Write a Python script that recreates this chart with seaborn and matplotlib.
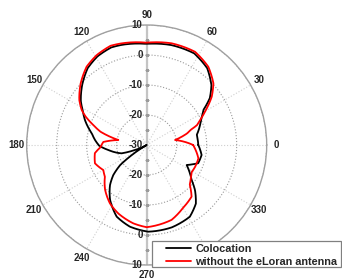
import numpy as np
import pandas as pd
import matplotlib
matplotlib.use("Agg")
import matplotlib.pyplot as plt
from matplotlib.patches import Rectangle
import seaborn as sns

# --- data (angle in degrees, gain in dB) ---
coloc_deg = [0, 11.3, 20.6, 27, 31.7, 36.6, 42.8, 51.8, 62.6, 76.2, 90, 104, 110, 119,
             127.5, 137, 146.3, 151.7, 158, 168, 174.5, 181, 187.4, 198.4, 203, 210,
             214, 217, 222, 227.5, 236.3, 247.3, 258.4, 271, 287, 301, 310, 317, 322,
             326.8, 333.4, 337, 340.5, 349.7, 360]
coloc_db = [-12.8, -13.0, -11.0, -9.4, -7.8, -3.8, -0.6, 2.6, 4.4, 4.3, 3.7, 4.4, 4.6, 3.8,
            2.3, -0.6, -3.6, -5.8, -7.8, -11.3, -12.7, -14.2, -17.1, -21.2, -25.8, -30,
            -24, -19, -15, -11.9, -8.0, -4.1, -2.2, -1.1, -1.3, -2.1, -4.5, -8.0, -11.0,
            -12.8, -15.1, -13.5, -11.8, -11.4, -12.8]

noel_deg = [0, 10, 16, 19, 21.5, 25, 30, 36.6, 42.8, 51.8, 62.6, 76.2, 90, 104, 110, 119,
            127.5, 137, 146.3, 151.7, 155, 159.5, 164, 170, 176, 183, 189, 199.5, 210,
            217.2, 227.2, 237.8, 247.4, 260.3, 270, 288.4, 300, 311, 317.4, 322, 329,
            335.8, 345.5, 356, 360]
noel_db = [-14.5, -20.4, -16.0, -14.5, -12.0, -10.4, -7.5, -3.0, 0.3, 3.2, 5.0, 4.9, 4.1, 4.9,
           5.2, 4.3, 2.9, 0.1, -3.0, -5.4, -7.5, -11.0, -14.0, -20.4, -15.5, -14.5, -12.5,
           -11.7, -13.3, -12.5, -9.6, -7.0, -5.3, -3.5, -2.6, -3.7, -5.8, -7.2, -10.5,
           -11.4, -12.5, -12.3, -12.2, -13.9, -14.5]

series_names = ["Colocation", "without the eLoran antenna"]
series_colors = ["black", "#ff0000"]

r_ticks = [-30, -20, -10, 0, 10]
theta_ticks = list(range(0, 360, 30))

sns.set_style("white")
plt.rcParams['font.family'] = ['Liberation Sans', 'DejaVu Sans']

fig = plt.figure(figsize=(3.42, 2.78), dpi=100)
ax = fig.add_axes([26.7 / 342, 13 / 278, 240 / 342, 240 / 278], projection='polar')

frames = []
for name, deg, db in [(series_names[0], coloc_deg, coloc_db),
                      (series_names[1], noel_deg, noel_db)]:
    frames.append(pd.DataFrame({'theta': np.deg2rad(deg), 'r': db, 'series': name}))
df = pd.concat(frames, ignore_index=True)

ax.set_ylim(-30, 10)

# axis line through the center (90 / 270)
ax.axvline(np.pi / 2, color='#c4c4c4', lw=1.6, zorder=1)
ax.axvline(3 * np.pi / 2, color='#c4c4c4', lw=1.6, zorder=1)

for name, col in zip(series_names, series_colors):
    sns.lineplot(data=df[df['series'] == name], x='theta', y='r', sort=False,
                 estimator=None, color=col, lw=1.3, label=name, ax=ax, zorder=3)
# draw segments as arcs in polar space
for line in ax.lines[-2:]:
    line.get_path()._interpolation_steps = 30

ax.set_xlabel('')
ax.set_ylabel('')

ax.set_thetagrids(theta_ticks, [''] * len(theta_ticks))
ax.set_rgrids(r_ticks, labels=[''] * len(r_ticks))
ax.xaxis.grid(True, color='#cfcfcf', linestyle=':', lw=0.8)
ax.yaxis.grid(True, color='#9a9a9a', linestyle=':', lw=0.8)
ax.spines['polar'].set_color('#a0a0a0')
ax.spines['polar'].set_linewidth(1.0)

# angle labels at a fixed distance from the center
for t in theta_ticks:
    a = np.deg2rad(t)
    ax.text(0.5 + 0.542 * np.cos(a), 0.5 + 0.542 * np.sin(a), str(t),
            transform=ax.transAxes, ha='center', va='center',
            fontsize=7, fontweight='bold')

# radial labels along the vertical axis (top and bottom)
for r in r_ticks:
    for th in (np.pi / 2, 3 * np.pi / 2):
        if r == -30 and th > np.pi:
            continue
        ax.annotate(str(r), xy=(th, r), xytext=(-3, 0), textcoords='offset points',
                    ha='right', va='center', fontsize=7, fontweight='bold', zorder=4)
minor_r = np.arange(-25, 10, 5)
for th in (np.pi / 2, 3 * np.pi / 2):
    ax.plot([th] * len(minor_r), minor_r, ls='none', marker='_', ms=3,
            color='#9a9a9a', mew=0.8, zorder=2)

# legend box drawn over the plot, legend entries inside it
fig.patches.append(Rectangle((152 / 342, 11 / 278), 189 / 342, 26.5 / 278,
                             transform=fig.transFigure, facecolor='white',
                             edgecolor='#808080', lw=0.9, zorder=4))
handles, labels = ax.get_legend_handles_labels()
ax.get_legend().remove()
leg = fig.legend(handles, labels, loc='upper left',
                 bbox_to_anchor=(166 / 342, (278 - 243.5) / 278),
                 frameon=False, borderaxespad=0, borderpad=0, handlelength=2.3,
                 handletextpad=0.4, labelspacing=0.3,
                 prop={'weight': 'bold', 'size': 7.8})
leg.set_zorder(5)

fig.savefig('out.png', dpi=100)
